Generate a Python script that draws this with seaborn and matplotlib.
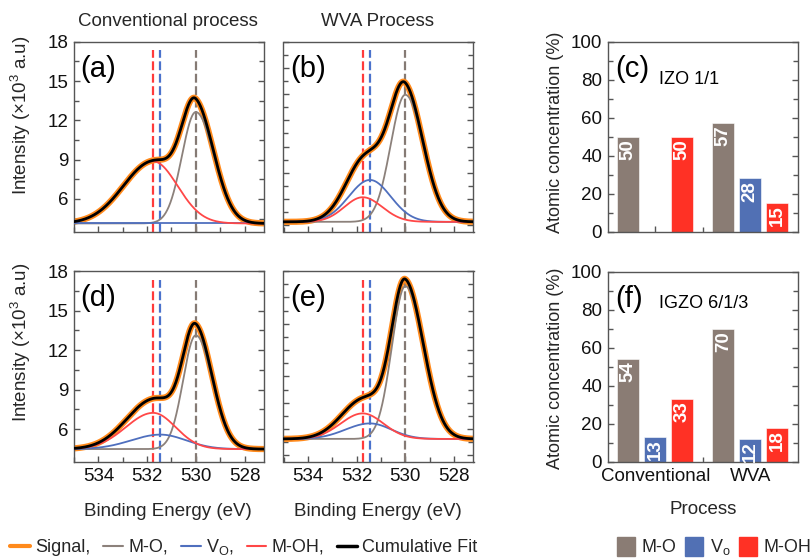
import numpy as np
import pandas as pd
import matplotlib
matplotlib.use("Agg")
import matplotlib.pyplot as plt
import seaborn as sns
from matplotlib.lines import Line2D
from matplotlib.patches import Patch
from matplotlib.ticker import MultipleLocator, FixedLocator

# ---------------- data ----------------
components = ["M-O", "V_O", "M-OH"]
peak_center = [530.0, 531.45, 531.75]          # eV (M-O, V_O, M-OH)

# XPS O1s fit parameters per panel (x10^3 a.u.)
baseline_a, baseline_b, baseline_d, baseline_e = 4.13, 4.25, 4.48, 5.25
height_a = [8.5, 0.0, 4.74]
height_b = [9.7, 3.2, 1.88]
height_d = [8.64, 1.1, 2.75]
height_e = [11.6, 1.18, 1.94]
# widths (sigma, eV) on high-BE side and low-BE side
sig_hi_a = [0.57, 1.0, 1.22]
sig_lo_a = [0.75, 1.0, 1.0]
sig_hi_b = [0.60, 0.87, 0.75]
sig_lo_b = [0.74, 0.85, 0.80]
sig_hi_d = [0.52, 1.2, 1.12]
sig_lo_d = [0.68, 1.05, 0.92]
sig_hi_e = [0.55, 1.0, 0.9]
sig_lo_e = [0.75, 0.88, 0.85]

# atomic concentration (%)
processes = ["Conventional", "WVA"]
izo_MO = [50, 57]
izo_VO = [0, 28]
izo_MOH = [50, 15]
igzo_MO = [54, 70]
igzo_VO = [13, 12]
igzo_MOH = [33, 18]

be_ticks = [534, 532, 530, 528]

# ---------------- style ----------------
sns.set_theme(style="white")
plt.rcParams["font.family"] = ["Liberation Sans", "DejaVu Sans"]
plt.rcParams["mathtext.fontset"] = "custom"
plt.rcParams["mathtext.rm"] = "Liberation Sans"
plt.rcParams["mathtext.it"] = "Liberation Sans:italic"

C_SIG = "#ff8a1c"
C_MO = "#8c817b"
C_VO = "#4f6fbe"
C_MOH = "#ff4747"
D_MO = "#857a74"
D_VO = "#4a72cc"
D_MOH = "#ff3b3b"
B_MO = "#8a7c74"
B_VO = "#5170b4"
B_MOH = "#ff3125"
SPINE = "#555555"

W, H = 812, 558
fig = plt.figure(figsize=(W / 100, H / 100), dpi=100)


def axrect(l, t, r, b):
    return fig.add_axes([l / W, 1 - b / H, (r - l) / W, (b - t) / H])


ax_a = axrect(74, 41.7, 264, 231.7)
ax_b = axrect(283.5, 41.7, 473.5, 231.7)
ax_d = axrect(74, 271, 264, 462)
ax_e = axrect(283.5, 271, 473.5, 462)
ax_c = axrect(607.7, 41.7, 797.7, 231.7)
ax_f = axrect(607.7, 272, 797.7, 462)

x = np.linspace(535.2, 527.0, 500)


def comp(c, h, s_hi, s_lo):
    s = np.where(x > c, s_hi, s_lo)
    return h * np.exp(-(x - c) ** 2 / (2 * s ** 2))


def style_axes(ax):
    for sp in ax.spines.values():
        sp.set_color(SPINE)
        sp.set_linewidth(1.0)
        sp.set_visible(True)
    ax.tick_params(which="both", direction="in", color=SPINE, right=True,
                   top=False, bottom=True, left=True)
    ax.tick_params(which="major", length=4.5, width=1.0, labelsize=13.5,
                   pad=4, labelcolor="#111111")
    ax.tick_params(which="minor", length=3.5, width=1.0)


def xps_panel(ax, base, heights, s_hi, s_lo, letter, ylabels, xlabels):
    parts = [base + comp(c, h, a, b) for c, h, a, b in zip(peak_center, heights, s_hi, s_lo)]
    total = base + sum(p - base for p in parts)
    for xc, col in zip([peak_center[2], peak_center[1], peak_center[0]], [D_MOH, D_VO, D_MO]):
        ax.axvline(xc, ymin=0, ymax=0.955, color=col, lw=1.6,
                   linestyle=(0, (4, 1.6)), zorder=1)
    sns.lineplot(x=x, y=total, ax=ax, color=C_SIG, lw=4.5, sort=False, zorder=2)
    sns.lineplot(x=x, y=parts[0], ax=ax, color=C_MO, lw=1.3, sort=False, zorder=3)
    sns.lineplot(x=x, y=parts[1], ax=ax, color=C_VO, lw=1.3, sort=False, zorder=3)
    sns.lineplot(x=x, y=parts[2], ax=ax, color=C_MOH, lw=1.3, sort=False, zorder=3)
    sns.lineplot(x=x, y=total, ax=ax, color="black", lw=2.0, sort=False, zorder=4)
    ax.set_xlim(535.0, 527.2)
    ax.set_ylim(3.5, 18)
    ax.xaxis.set_major_locator(FixedLocator(be_ticks))
    ax.xaxis.set_minor_locator(MultipleLocator(1))
    if ylabels:
        ax.yaxis.set_major_locator(FixedLocator([6, 9, 12, 15, 18]))
        ax.yaxis.set_minor_locator(MultipleLocator(1.5))
    else:
        ax.yaxis.set_major_locator(MultipleLocator(2))
        ax.yaxis.set_minor_locator(MultipleLocator(1))
    style_axes(ax)
    if not ylabels:
        ax.set_yticklabels([])
    if not xlabels:
        ax.set_xticklabels([])
    ax.set_xlabel("")
    ax.set_ylabel("")
    ax.text(0.035, 0.93, letter, transform=ax.transAxes, ha="left", va="top",
            fontsize=21, color="black")


xps_panel(ax_a, baseline_a, height_a, sig_hi_a, sig_lo_a, "(a)", True, False)
xps_panel(ax_b, baseline_b, height_b, sig_hi_b, sig_lo_b, "(b)", False, False)
xps_panel(ax_d, baseline_d, height_d, sig_hi_d, sig_lo_d, "(d)", True, True)
xps_panel(ax_e, baseline_e, height_e, sig_hi_e, sig_lo_e, "(e)", False, True)


def bar_panel(ax, mo, vo, moh, letter, name, name_y, xlabels):
    df = pd.DataFrame({
        "process": processes * 3,
        "species": ["M-O"] * 2 + ["V_O"] * 2 + ["M-OH"] * 2,
        "value": list(mo) + list(vo) + list(moh),
    })
    sns.barplot(data=df, x="process", y="value", hue="species",
                order=processes, hue_order=["M-O", "V_O", "M-OH"],
                palette=[B_MO, B_VO, B_MOH], width=0.85, gap=0.17,
                saturation=1, legend=False, ax=ax, edgecolor="white", linewidth=0.4)
    for cont in ax.containers:
        for patch in cont:
            v = patch.get_height()
            if v <= 0:
                continue
            ax.text(patch.get_x() + patch.get_width() / 2, v - 1.2, f"{v:.0f}",
                    rotation=90, ha="center", va="top", color="white",
                    fontsize=13.5, fontweight="bold", zorder=5)
    ax.set_xlim(-0.5, 1.5)
    ax.set_ylim(0, 100)
    ax.yaxis.set_major_locator(MultipleLocator(20))
    ax.yaxis.set_minor_locator(MultipleLocator(10))
    ax.xaxis.set_major_locator(FixedLocator([0, 1]))
    ax.xaxis.set_minor_locator(FixedLocator([0.5]))
    style_axes(ax)
    ax.set_xlabel("")
    ax.set_ylabel("")
    if xlabels:
        ax.set_xticklabels(processes)
    else:
        ax.set_xticklabels([])
    ax.text(0.04, 0.93, letter, transform=ax.transAxes, ha="left", va="top",
            fontsize=21, color="black")
    ax.text(0.27, name_y, name, transform=ax.transAxes, ha="left", va="center",
            fontsize=13, color="black")


bar_panel(ax_c, izo_MO, izo_VO, izo_MOH, "(c)", "IZO 1/1", 0.80, False)
bar_panel(ax_f, igzo_MO, igzo_VO, igzo_MOH, "(f)", "IGZO 6/1/3", 0.835, True)

# ---------------- labels ----------------
fig.text(168 / W, 1 - 21 / H, "Conventional process", ha="center", va="center", fontsize=13.5)
fig.text(378 / W, 1 - 21 / H, "WVA Process", ha="center", va="center", fontsize=13.5)
ylab = r"Intensity (×10$^\mathregular{3}$ a.u)"
fig.text(21 / W, 1 - 115 / H, ylab, rotation=90, ha="center", va="center", fontsize=13.5)
fig.text(21 / W, 1 - 342 / H, ylab, rotation=90, ha="center", va="center", fontsize=13.5)
fig.text(556 / W, 1 - 132 / H, "Atomic concentration (%)", rotation=90,
         ha="center", va="center", fontsize=13)
fig.text(556 / W, 1 - 368 / H, "Atomic concentration (%)", rotation=90,
         ha="center", va="center", fontsize=13)
fig.text(168 / W, 1 - 512 / H, "Binding Energy (eV)", ha="center", va="center", fontsize=13.5)
fig.text(378 / W, 1 - 512 / H, "Binding Energy (eV)", ha="center", va="center", fontsize=13.5)
fig.text(703 / W, 1 - 510 / H, "Process", ha="center", va="center", fontsize=13.5)

# ---------------- legends ----------------
line_handles = [
    Line2D([], [], color=C_SIG, lw=3),
    Line2D([], [], color=C_MO, lw=1.5),
    Line2D([], [], color=C_VO, lw=1.5),
    Line2D([], [], color=C_MOH, lw=1.5),
    Line2D([], [], color="black", lw=2.5),
]
line_labels = ["Signal,", "M-O,", r"V$_\mathregular{O}$,", "M-OH,", "Cumulative Fit"]
fig.legend(line_handles, line_labels, loc="center left",
           bbox_to_anchor=(10 / W, 1 - 547 / H), ncol=5, frameon=False,
           fontsize=13, handlelength=1.1, handletextpad=0.3, columnspacing=0.7,
           borderaxespad=0, borderpad=0)

bar_handles = [Patch(color=B_MO), Patch(color=B_VO), Patch(color=B_MOH)]
bar_labels = ["M-O", r"V$_\mathregular{o}$", "M-OH"]
fig.legend(bar_handles, bar_labels, loc="center left",
           bbox_to_anchor=(617 / W, 1 - 547 / H), ncol=3, frameon=False,
           fontsize=13, handlelength=1.0, handleheight=1.3, handletextpad=0.35,
           columnspacing=0.5, borderaxespad=0, borderpad=0)

fig.savefig("out.png", dpi=100)
